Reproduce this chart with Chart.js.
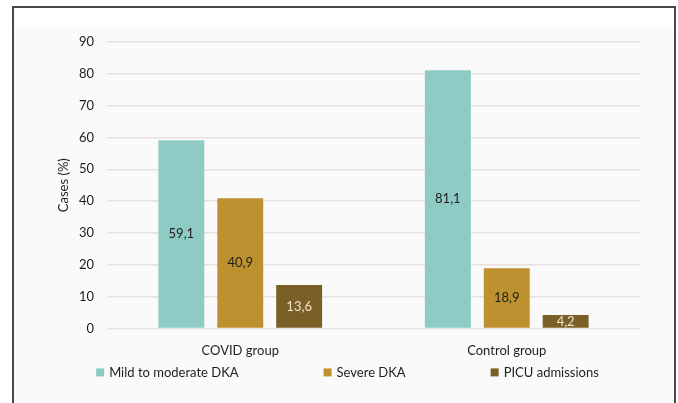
<!DOCTYPE html>
<html>
<head>
<meta charset="utf-8">
<script src="https://cdn.jsdelivr.net/npm/chart.js@4/dist/chart.umd.min.js"></script>
<style>
html,body{margin:0;padding:0;background:#fff;}
#wrap{position:absolute;left:0;top:0;width:678px;height:403px;}
</style>
</head>
<body>
<div id="wrap"><canvas id="c" width="678" height="403"></canvas></div>
<script>
const categories = ["COVID group", "Control group"];
const seriesNames = ["Mild to moderate DKA", "Severe DKA", "PICU admissions"];
const mildModerate = [59.1, 81.1];
const severe = [40.9, 18.9];
const picu = [13.6, 4.2];
const yTicks = [0, 10, 20, 30, 40, 50, 60, 70, 80, 90];

const colors = ["#8ECBC5", "#BE9130", "#7A5F27"];
const labelColors = ["#1e1e1e", "#1e1e1e", "#F2E3C6"];
const FONT = "Lato, 'Open Sans', sans-serif";
const FS = 13;

const bgPlugin = {
  id: 'bg',
  beforeDraw(chart) {
    const ctx = chart.ctx;
    ctx.save();
    ctx.fillStyle = '#ffffff';
    ctx.fillRect(0, 0, 678, 403);
    ctx.fillStyle = '#fafafa';
    ctx.fillRect(13, 27, 662, 376);
    ctx.strokeStyle = '#4a4a4a';
    ctx.lineWidth = 2;
    ctx.beginPath();
    ctx.moveTo(13, 410);
    ctx.lineTo(13, 7);
    ctx.lineTo(675, 7);
    ctx.lineTo(675, 410);
    ctx.stroke();
    ctx.restore();
  }
};

const labelPlugin = {
  id: 'vals',
  afterDatasetsDraw(chart) {
    const ctx = chart.ctx;
    ctx.save();
    ctx.font = FS + "px " + FONT;
    ctx.textAlign = 'center';
    ctx.textBaseline = 'middle';
    chart.data.datasets.forEach((ds, i) => {
      const meta = chart.getDatasetMeta(i);
      meta.data.forEach((bar, j) => {
        const v = ds.data[j];
        const y = (bar.y + bar.base) / 2;
        ctx.fillStyle = labelColors[i];
        ctx.fillText(v.toFixed(1).replace('.', ','), bar.x, y);
      });
    });
    ctx.restore();
  }
};

const legendPlugin = {
  id: 'customLegend',
  afterDraw(chart) {
    const ctx = chart.ctx;
    ctx.save();
    ctx.font = FS + "px " + FONT;
    ctx.textBaseline = 'middle';
    ctx.textAlign = 'left';
    const box = 8, gapText = 5, gapItem = 85;
    const items = chart.data.datasets.map(d => ({ text: d.label, color: d.backgroundColor, w: box + gapText + ctx.measureText(d.label).width }));
    const total = items.reduce((s, it) => s + it.w, 0) + gapItem * (items.length - 1);
    const cx = (chart.chartArea.left + chart.chartArea.right) / 2 - 26;
    let x = cx - total / 2;
    const y = chart.chartArea.bottom + 44;
    items.forEach(it => {
      ctx.fillStyle = it.color;
      ctx.fillRect(x, y - box / 2, box, box);
      ctx.fillStyle = '#1e1e1e';
      ctx.fillText(it.text, x + box + gapText, y + 0.5);
      x += it.w + gapItem;
    });
    ctx.restore();
  }
};

new Chart(document.getElementById('c'), {
  type: 'bar',
  data: {
    labels: categories,
    datasets: [
      { label: seriesNames[0], data: mildModerate, backgroundColor: colors[0] },
      { label: seriesNames[1], data: severe, backgroundColor: colors[1] },
      { label: seriesNames[2], data: picu, backgroundColor: colors[2] }
    ].map(d => Object.assign(d, { categoryPercentage: 0.663, barPercentage: 0.78 }))
  },
  options: {
    responsive: false,
    animation: false,
    devicePixelRatio: 1,
    layout: { padding: { left: 52, right: 38, top: 42, bottom: 37 } },
    plugins: {
      legend: { display: false },
      tooltip: { enabled: false }
    },
    scales: {
      x: {
        grid: { display: false },
        border: { display: false },
        ticks: { color: '#1e1e1e', font: { family: FONT, size: FS }, padding: 7 }
      },
      y: {
        min: 0, max: 90,
        afterBuildTicks(scale) { scale.ticks = yTicks.map(v => ({ value: v })); },
        afterFit(scale) { scale.width = 55; },
        grid: { color: '#e8dfdf', lineWidth: 1.5, drawTicks: false },
        border: { display: false },
        ticks: { color: '#1e1e1e', font: { family: FONT, size: FS }, padding: 13, autoSkip: false },
        title: { display: true, text: 'Cases (%)', color: '#1e1e1e', font: { family: FONT, size: FS }, padding: 4 }
      }
    }
  },
  plugins: [bgPlugin, labelPlugin, legendPlugin]
});
</script>
</body>
</html>
